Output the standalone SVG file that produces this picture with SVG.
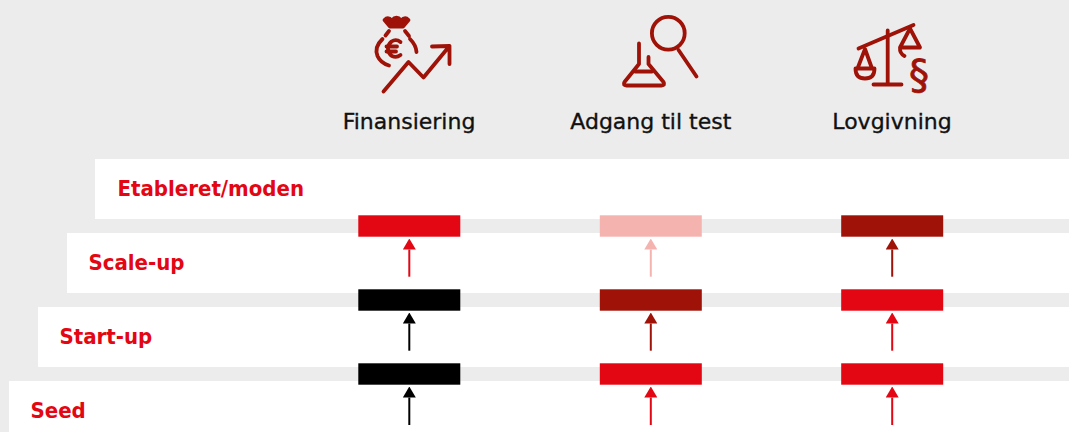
<svg xmlns="http://www.w3.org/2000/svg" width="1069" height="432" viewBox="0 0 1069 432">
<style>
.bg{fill:#ececec}
.band{fill:#ffffff}
.stage{font-family:"DejaVu Sans Condensed","DejaVu Sans",sans-serif;font-weight:bold;font-size:22px;fill:#e30613}
.head{font-family:"DejaVu Sans","Liberation Sans",sans-serif;font-size:22px;fill:#111111;stroke:#111111;stroke-width:0.35;text-anchor:middle}
.icon{fill:none;stroke:#9e1208;stroke-width:3.8;stroke-linecap:round;stroke-linejoin:round}
.red{fill:#e30613}.blk{fill:#000000}.dk{fill:#9e1208}.pk{fill:#f5b3b0}
.c{stroke-width:2;fill:none}
.cr{stroke:#e30613}.cb{stroke:#000000}.cd{stroke:#9e1208}.cp{stroke:#f5b3b0}
</style>
<defs>
<marker id="mr" viewBox="0 0 11 13" refX="0" refY="6.5" markerWidth="11" markerHeight="13" markerUnits="userSpaceOnUse" orient="auto"><path d="M0,0 L11,6.5 L0,13 Z" fill="#e30613"/></marker>
<marker id="mb" viewBox="0 0 11 13" refX="0" refY="6.5" markerWidth="11" markerHeight="13" markerUnits="userSpaceOnUse" orient="auto"><path d="M0,0 L11,6.5 L0,13 Z" fill="#000000"/></marker>
<marker id="md" viewBox="0 0 11 13" refX="0" refY="6.5" markerWidth="11" markerHeight="13" markerUnits="userSpaceOnUse" orient="auto"><path d="M0,0 L11,6.5 L0,13 Z" fill="#9e1208"/></marker>
<marker id="mp" viewBox="0 0 11 13" refX="0" refY="6.5" markerWidth="11" markerHeight="13" markerUnits="userSpaceOnUse" orient="auto"><path d="M0,0 L11,6.5 L0,13 Z" fill="#f5b3b0"/></marker>
</defs>
<rect class="bg" x="0" y="0" width="1069" height="432"/>

<g id="stage-etableret"><rect class="band" x="95" y="159" width="974" height="60"/><text class="stage" x="117.5" y="195.5">Etableret/moden</text></g>
<g id="stage-scaleup"><rect class="band" x="67" y="233" width="1002" height="60"/><text class="stage" x="88.5" y="269.5">Scale-up</text></g>
<g id="stage-startup"><rect class="band" x="38" y="307" width="1031" height="60"/><text class="stage" x="59.5" y="343.5">Start-up</text></g>
<g id="stage-seed"><rect class="band" x="9" y="381" width="1060" height="51"/><text class="stage" x="30.5" y="417.5">Seed</text></g>

<g id="head-finansiering">
<path class="icon" style="fill:#9e1208" d="M384.5,20 Q388,16.5 392,20.5 Q396.5,15 401,20.5 Q405,16.5 408.5,20 L403,26.5 L390,26.5 Z"/>
<path class="icon" d="M389,31 L385.5,35.5 M405,31 L409,36"/>
<path class="icon" d="M382.5,39 Q374,47 377.5,56 Q380.5,63 389,65.5"/>
<path class="icon" d="M410,39 Q416,45 416.5,52"/>
<path class="icon" d="M400.5,42 Q396,38.5 391.5,41.5 Q387.5,45 388,49 Q388.5,54 392,56 Q396.5,58 400.5,55"/>
<path class="icon" d="M386.5,46.5 L397,46.5 M386.5,51.5 L396,51.5"/>
<path class="icon" d="M383.5,91.5 L408.5,62 L423.5,77.5 L449.5,46 M432,46.5 L449.5,46 L449.5,64"/>
<text class="head" x="409" y="129">Finansiering</text>
</g>

<g id="head-adgang">
<circle class="icon" cx="668.3" cy="33.3" r="16.4"/>
<path class="icon" d="M678.5,50 L696.5,76.5"/>
<path class="icon" d="M639,43.5 L639,64 L624.5,82 Q622.5,85.5 626.5,85.5 L661.5,85.5 Q665.5,85.5 663.5,82 L648.5,64 L648.5,57"/>
<path class="icon" d="M635,71.5 L652,71.5"/>
<text class="head" x="650.8" y="129">Adgang til test</text>
</g>

<g id="head-lovgivning">
<path class="icon" d="M858.5,48.5 L913.5,25"/>
<path class="icon" d="M887.7,30.5 L887.7,84.5 M873.5,84.5 L901.5,84.5"/>
<path class="icon" d="M857.5,68.5 L865,49 L872,68.5 M855.5,68.5 L874.5,68.5 Q874.5,78.5 865,78.5 Q855.5,78.5 855.5,68.5 Z"/>
<path class="icon" d="M900,47.5 L910,28.5 L920,47.5 L900,47.5 Q899.5,53.5 904.5,56"/>
<text x="919" y="89" style="font-family:'DejaVu Sans',sans-serif;font-size:40px;fill:#9e1208;stroke:#9e1208;stroke-width:0.8;text-anchor:middle">§</text>
<text class="head" x="892" y="129">Lovgivning</text>
</g>

<g id="bars-finansiering">
<rect class="red" x="358.3" y="215.3" width="102" height="21.4"/>
<rect class="blk" x="358.3" y="289.3" width="102" height="21.4"/>
<rect class="blk" x="358.3" y="363.3" width="102" height="21.4"/>
</g>
<g id="bars-adgang">
<rect class="pk" x="599.8" y="215.3" width="102" height="21.4"/>
<rect class="dk" x="599.8" y="289.3" width="102" height="21.4"/>
<rect class="red" x="599.8" y="363.3" width="102" height="21.4"/>
</g>
<g id="bars-lovgivning">
<rect class="dk" x="841.2" y="215.3" width="102" height="21.4"/>
<rect class="red" x="841.2" y="289.3" width="102" height="21.4"/>
<rect class="red" x="841.2" y="363.3" width="102" height="21.4"/>
</g>

<g id="connectors">
<line class="c cr" x1="409.3" y1="276.7" x2="409.3" y2="249.5" marker-end="url(#mr)"/>
<line class="c cb" x1="409.3" y1="350.7" x2="409.3" y2="323.5" marker-end="url(#mb)"/>
<line class="c cb" x1="409.3" y1="425" x2="409.3" y2="397.5" marker-end="url(#mb)"/>
<line class="c cp" x1="650.8" y1="276.7" x2="650.8" y2="249.5" marker-end="url(#mp)"/>
<line class="c cd" x1="650.8" y1="350.7" x2="650.8" y2="323.5" marker-end="url(#md)"/>
<line class="c cr" x1="650.8" y1="425" x2="650.8" y2="397.5" marker-end="url(#mr)"/>
<line class="c cd" x1="892.2" y1="276.7" x2="892.2" y2="249.5" marker-end="url(#md)"/>
<line class="c cr" x1="892.2" y1="350.7" x2="892.2" y2="323.5" marker-end="url(#mr)"/>
<line class="c cr" x1="892.2" y1="425" x2="892.2" y2="397.5" marker-end="url(#mr)"/>
</g>
</svg>
